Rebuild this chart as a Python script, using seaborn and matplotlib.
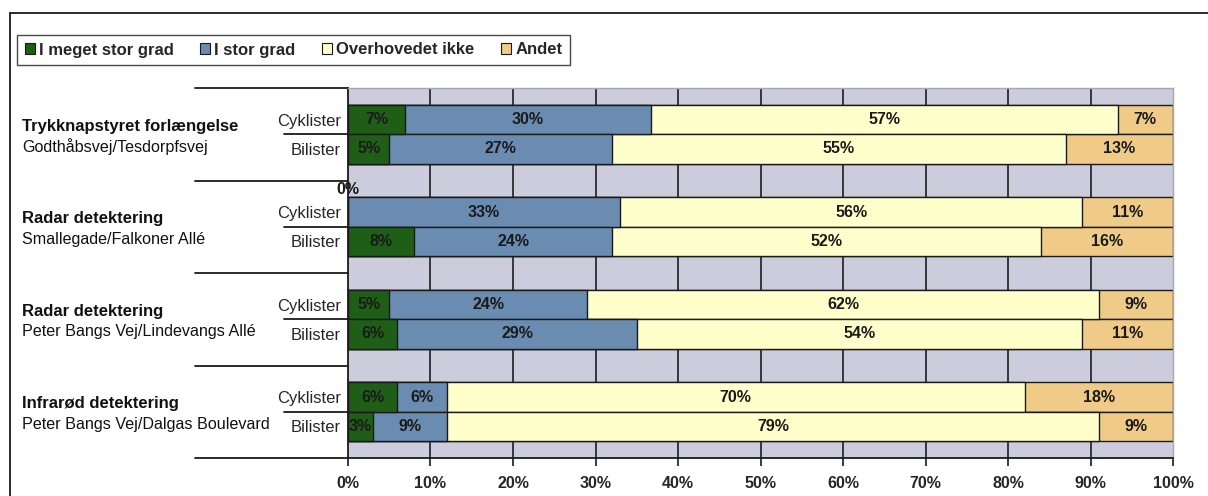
import numpy as np
import pandas as pd
import seaborn as sns
import matplotlib.pyplot as plt
from matplotlib.patches import Patch
from matplotlib.transforms import blended_transform_factory

# Data (percent of respondents)
groups = ["Trykknapstyret forlængelse", "Radar detektering",
          "Radar detektering", "Infrarød detektering"]
places = ["Godthåbsvej/Tesdorpfsvej", "Smallegade/Falkoner Allé",
          "Peter Bangs Vej/Lindevangs Allé", "Peter Bangs Vej/Dalgas Boulevard"]
roles = ["Cyklister", "Bilister"]
series = ["I meget stor grad", "I stor grad", "Overhovedet ikke", "Andet"]

meget_stor = [6.9, 5, 0, 8, 5, 6, 6, 3]
stor = [29.8, 27, 33, 24, 24, 29, 6, 9]
overhovedet = [56.6, 55, 56, 52, 62, 54, 70, 79]
andet = [6.7, 13, 11, 16, 9, 11, 18, 9]

colors = ["#1F5E16", "#6A8CB0", "#FFFFCC", "#F0CB88"]

sns.set_style("white")
plt.rcParams["font.family"] = ["Liberation Sans", "DejaVu Sans"]

FS = 12  # base font size

G = 3.14  # height of one group in bar units
ypos = []
for g in range(4):
    for r in range(2):
        ypos.append(g * G + (G - 2) / 2 + 0.5 + r)

df = pd.DataFrame({"y": ypos, "s0": meget_stor, "s1": stor,
                   "s2": overhovedet, "s3": andet})
cols = ["s0", "s1", "s2", "s3"]
cum = df[cols].cumsum(axis=1)

fig = plt.figure(figsize=(12.08, 4.96), dpi=100)
ax = fig.add_axes([348 / 1208, 1 - 458 / 496, 825 / 1208, 370 / 496])
ax.set_facecolor("#CCCCDC")

# vertical gridlines (only visible in the gaps between bar groups)
ax.vlines(np.arange(10, 100, 10), 0, 4 * G, color="#2B2B2B", lw=1.3, zorder=0)

# stacked bars: draw cumulative totals from the last series to the first
for i in range(3, -1, -1):
    sns.barplot(x=cum[cols[i]], y=df["y"], orient="h", native_scale=True,
                color=colors[i], edgecolor="#1A1A1A", linewidth=1.0,
                width=1.0, errorbar=None, saturation=1, ax=ax, zorder=2)

# value labels
for j in range(len(df)):
    left = 0
    for i, c in enumerate(cols):
        v = df.loc[j, c]
        if v == 0:
            ax.text(0, df.loc[j, "y"] - 0.5, "0%", ha="center", va="bottom",
                    fontsize=FS - 0.5, fontweight="bold", color="#1A1A1A",
                    clip_on=False, zorder=5)
        else:
            ax.text(left + v / 2, df.loc[j, "y"], f"{round(v):d}%",
                    ha="center", va="center", fontsize=FS - 0.5,
                    fontweight="bold", color="#1A1A1A", zorder=5)
        left += v

ax.set_xlim(0, 100)
ax.set_ylim(4 * G, 0)
ax.set_xticks(np.arange(0, 101, 10))
ax.set_xticklabels([f"{t}%" for t in range(0, 101, 10)],
                   fontweight="bold", fontsize=FS - 0.5)
ax.set_yticks(ypos)
ax.set_yticklabels(roles * 4, fontsize=FS)
ax.tick_params(axis="y", length=0, pad=5)
ax.tick_params(axis="x", length=6, width=1.2, color="#1A1A1A",
               direction="out", pad=7, bottom=True)
ax.set_xlabel("")
ax.set_ylabel("")
for side in ["left", "bottom"]:
    ax.spines[side].set_color("#1A1A1A")
    ax.spines[side].set_linewidth(1.3)
for side in ["top", "right"]:
    ax.spines[side].set_color("#A8A8A8")
    ax.spines[side].set_linewidth(1.0)

# category axis lines on the left
tr = blended_transform_factory(fig.transFigure, ax.transData)
x_plot = 348 / 1208
for g in range(5):
    ax.plot([195 / 1208, x_plot], [g * G, g * G], transform=tr,
            color="#1A1A1A", lw=1.3, clip_on=False)
for g in range(4):
    yb = g * G + G / 2
    ax.plot([284 / 1208, x_plot], [yb, yb], transform=tr,
            color="#1A1A1A", lw=1.3, clip_on=False)
    yc = g * G + G / 2
    ax.text(22 / 1208, yc - 0.28, groups[g], transform=tr, ha="left",
            va="center", fontsize=FS, fontweight="bold", color="#111111")
    ax.text(22 / 1208, yc + 0.43, places[g], transform=tr, ha="left",
            va="center", fontsize=FS - 0.4, color="#111111")

# legend
handles = [Patch(facecolor=c, edgecolor="#1A1A1A", linewidth=0.8)
           for c in colors]
leg = fig.legend(handles, series, loc="upper left",
                 bbox_to_anchor=(17 / 1208, 1 - 35 / 496), ncol=4,
                 frameon=True, fancybox=False, edgecolor="#1A1A1A",
                 prop={"weight": "bold", "size": FS}, handlelength=0.6,
                 handleheight=0.6, handletextpad=0.25, columnspacing=1.6,
                 borderpad=0.45, borderaxespad=0)
leg.get_frame().set_linewidth(1.0)

# chart border (top and left edges visible in the crop)
fig.add_artist(plt.Line2D([10 / 1208, 10 / 1208], [0, 1 - 13 / 496],
                          transform=fig.transFigure, color="#1A1A1A", lw=1.3))
fig.add_artist(plt.Line2D([10 / 1208, 1], [1 - 13 / 496, 1 - 13 / 496],
                          transform=fig.transFigure, color="#1A1A1A", lw=1.3))

fig.savefig("out.png", dpi=100)
